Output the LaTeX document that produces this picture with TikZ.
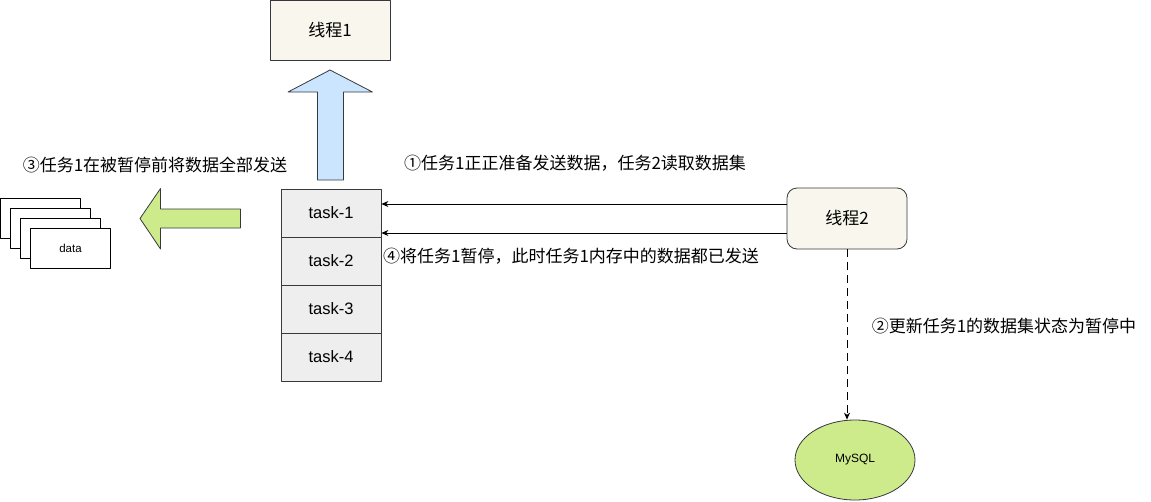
\documentclass[tikz,border=0pt]{standalone}
\usepackage{fontspec}
\setmainfont{Liberation Sans}
\newfontfamily\cjk{Noto Sans CJK SC}
\usetikzlibrary{arrows.meta,shapes.geometric}
\definecolor{edgegray}{HTML}{36393D}
\definecolor{cream}{HTML}{F9F7ED}
\definecolor{paleblue}{HTML}{CCE5FF}
\definecolor{palegreen}{HTML}{CDEB8B}
\definecolor{taskgray}{HTML}{EEEEEE}
\begin{document}
\begin{tikzpicture}[x=1pt, y=-1pt, line join=round, >={Stealth[length=7pt,width=6pt]},
    line width=0.8pt,
    thread/.style={draw=edgegray, fill=cream, minimum width=120pt, minimum height=60pt, font=\cjk\fontsize{17}{20}\selectfont},
    taskbox/.style={draw=edgegray, fill=taskgray, minimum width=100pt, minimum height=48pt, font=\fontsize{16.5}{19}\selectfont},
    databox/.style={draw=black, fill=white, minimum width=80pt, minimum height=40pt, font=\fontsize{11.5}{14}\selectfont},
    note/.style={font=\cjk\fontsize{17}{20}\selectfont, inner sep=0pt}]
    \useasboundingbox (0,0) rectangle (1151,501);
    % threads
    \node[thread] (thread1) at (330,30.5) {线程1};
    \node[thread, rounded corners=10pt, minimum height=61pt] (thread2) at (847,218.5) {线程2};
    % task stack
    \foreach \i in {1,...,4}
        \node[taskbox] (task\i) at (331,165+48*\i) {task-\i};
    % block arrows
    \draw[draw=edgegray, fill=paleblue]
        (317.5,180) -- (317.5,92) -- (288,92) -- (330,70) -- (372.5,92) -- (343.5,92) -- (343.5,180) -- cycle;
    \draw[draw=edgegray, fill=palegreen]
        (240.5,209) -- (160.5,209) -- (160.5,188.5) -- (140,218.5) -- (160.5,249) -- (160.5,228) -- (240.5,228) -- cycle;
    % data pages
    \node[databox] (data1) at (40.5,218) {};
    \node[databox] (data2) at (50.5,228) {};
    \node[databox] (data3) at (60.5,238) {};
    \node[databox] (data4) at (70.5,248) {data};
    % database
    \node[ellipse, draw=edgegray, fill=palegreen, minimum width=120pt, minimum height=80pt, font=\fontsize{12}{14}\selectfont] (mysql) at (855,460) {MySQL};
    % connectors
    \draw[->] ([yshift=14.5pt]thread2.west) coordinate (a1) -- (a1 -| task1.east);
    \draw[->] ([yshift=-14.5pt]thread2.west) coordinate (a4) -- (a4 -| task1.east);
    \draw[->, dash pattern=on 8pt off 5pt] (thread2.south) -- (thread2.south |- mysql.north);
    % labels
    \node[note] (step1) at (575,163.5) {①任务1正正准备发送数据，任务2读取数据集};
    \node[note] (step2) at (1004,326) {②更新任务1的数据集状态为暂停中};
    \node[note] (step3) at (155,165) {③任务1在被暂停前将数据全部发送};
    \node[note] (step4) at (571,256.5) {④将任务1暂停，此时任务1内存中的数据都已发送};
\end{tikzpicture}
\end{document}
